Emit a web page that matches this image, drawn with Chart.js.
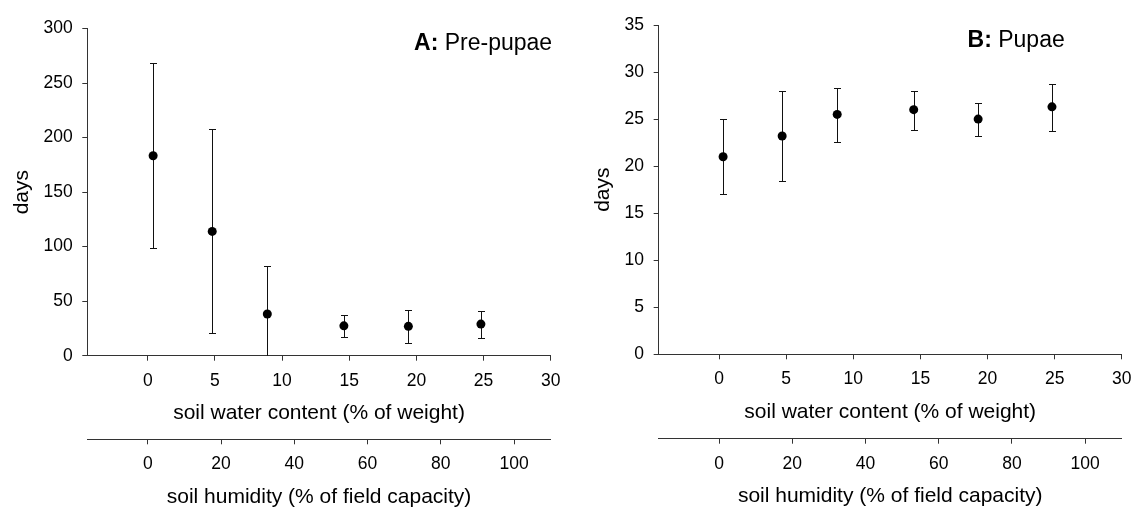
<!DOCTYPE html>
<html>
<head>
<meta charset="utf-8">
<script src="https://cdn.jsdelivr.net/npm/chart.js@4"></script>
<style>
  html, body { margin: 0; padding: 0; background: #fff; }
  #wrap { position: relative; width: 1141px; height: 508px; }
  canvas { position: absolute; top: 0; }
</style>
</head>
<body>
<div id="wrap">
  <canvas id="chartA" width="570" height="508" style="left:0"></canvas>
  <canvas id="chartB" width="571" height="508" style="left:570px"></canvas>
</div>
<script>
// tick labels
const waterTicks = [0, 5, 10, 15, 20, 25, 30];
const humidityTicks = [0, 20, 40, 60, 80, 100];
const daysTicksA = [0, 50, 100, 150, 200, 250, 300];
const daysTicksB = [0, 5, 10, 15, 20, 25, 30, 35];

// A: pre-pupae (days), mean with upper / lower bar ends
const waterA = [0.4, 4.8, 8.9, 14.6, 19.4, 24.8];
const meanA = [183.4, 114.0, 38.2, 27.4, 26.9, 29.0];
const upperA = [268.0, 207.6, 82.0, 37.5, 41.8, 41.2];
const lowerA = [98.4, 20.5, -6.0, 17.1, 11.6, 16.4];

// B: pupae (days)
const waterB = [0.3, 4.7, 8.8, 14.5, 19.3, 24.8];
const meanB = [21.0, 23.2, 25.5, 26.0, 25.0, 26.3];
const upperB = [25.0, 28.0, 28.3, 28.0, 26.7, 28.7];
const lowerB = [17.0, 18.4, 22.6, 23.8, 23.2, 23.7];

const FONT = '"Liberation Sans", Arial, sans-serif';
Chart.defaults.font.family = FONT;
Chart.defaults.color = '#000';

const errorBars = {
  id: 'errorBars',
  beforeDatasetsDraw(chart) {
    const { ctx, chartArea, scales } = chart;
    const ds = chart.data.datasets[0];
    ctx.save();
    ctx.beginPath();
    ctx.rect(chartArea.left, chartArea.top - 2, chartArea.width, chartArea.height + 2);
    ctx.clip();
    ctx.strokeStyle = '#111';
    ctx.lineWidth = 1;
    ds.data.forEach((p, i) => {
      const x = Math.round(scales.x.getPixelForValue(p.x)) + 0.5;
      const yHi = Math.round(scales.y.getPixelForValue(ds.errorUpper[i])) + 0.5;
      const yLo = Math.round(scales.y.getPixelForValue(ds.errorLower[i])) + 0.5;
      ctx.beginPath();
      ctx.moveTo(x, yHi);
      ctx.lineTo(x, yLo);
      ctx.moveTo(x - 3.5, yHi);
      ctx.lineTo(x + 3.5, yHi);
      if (ds.errorLower[i] >= scales.y.min) {
        ctx.moveTo(x - 3.5, yLo);
        ctx.lineTo(x + 3.5, yLo);
      }
      ctx.stroke();
    });
    ctx.restore();
  }
};

function panelLabel(bold, rest, atX, atY) {
  return {
    id: 'panelLabel',
    afterDraw(chart) {
      const { ctx, scales } = chart;
      const right = scales.x.getPixelForValue(atX);
      const base = scales.y.getPixelForValue(atY);
      ctx.save();
      ctx.fillStyle = '#000';
      ctx.textBaseline = 'alphabetic';
      ctx.textAlign = 'left';
      ctx.font = '23px ' + FONT;
      const wRest = ctx.measureText(rest).width;
      ctx.font = 'bold 23px ' + FONT;
      const wBold = ctx.measureText(bold).width;
      ctx.fillText(bold, right - wRest - wBold, base);
      ctx.font = '23px ' + FONT;
      ctx.fillText(rest, right - wRest, base);
      ctx.restore();
    }
  };
}

function setTicks(list) {
  return (scale) => { scale.ticks = list.map((v) => ({ value: v })); };
}

function axisStyle() {
  return {
    grid: { drawOnChartArea: false, tickLength: 5, color: '#333' },
    border: { color: '#333', width: 1 },
  };
}

function makeChart(id, cfg) {
  return new Chart(document.getElementById(id), {
    type: 'scatter',
    data: {
      datasets: [{
        data: cfg.water.map((x, i) => ({ x: x, y: cfg.mean[i] })),
        errorUpper: cfg.upper,
        errorLower: cfg.lower,
        pointRadius: 4.5,
        pointHoverRadius: 4.5,
        borderWidth: 0,
        backgroundColor: '#000',
        borderColor: '#000'
      }]
    },
    options: {
      responsive: false,
      animation: false,
      devicePixelRatio: 1,
      events: [],
      layout: { padding: { top: cfg.padTop, right: cfg.padRight, bottom: 0, left: 0 } },
      plugins: { legend: { display: false }, tooltip: { enabled: false } },
      scales: {
        x: {
          type: 'linear', position: 'bottom', weight: 0,
          min: -4.5, max: 30,
          afterBuildTicks: setTicks(waterTicks),
          ...axisStyle(),
          ticks: { padding: 9.5, color: '#000', font: { size: 17.5 } },
          title: { display: true, text: 'soil water content (% of weight)', color: '#000',
                   font: { size: 21 }, padding: { top: 0, bottom: cfg.xTitlePad } }
        },
        x2: {
          type: 'linear', position: 'bottom', weight: 1,
          min: -16.5, max: 110,
          afterBuildTicks: setTicks(humidityTicks),
          ...axisStyle(),
          ticks: { padding: 9.5, color: '#000', font: { size: 17.5 } },
          title: { display: true, text: 'soil humidity (% of field capacity)', color: '#000',
                   font: { size: 21 }, padding: { top: 0, bottom: cfg.x2TitlePad } }
        },
        y: {
          type: 'linear', position: 'left',
          min: 0, max: cfg.yMax,
          afterBuildTicks: setTicks(cfg.yTicks),
          ...axisStyle(),
          ticks: { padding: 9.6, color: '#000', font: { size: 17.5 } },
          title: { display: true, text: 'days', color: '#000',
                   font: { size: 21 }, padding: { top: cfg.yTitleTop, bottom: cfg.yTitleBottom } }
        }
      }
    },
    plugins: [errorBars, panelLabel(cfg.labelBold, cfg.labelRest, cfg.labelX, cfg.labelY)]
  });
}

makeChart('chartA', {
  water: waterA, mean: meanA, upper: upperA, lower: lowerA,
  yMax: 300, yTicks: daysTicksA,
  padTop: 28.6, padRight: 15,
  xTitlePad: 13.4, x2TitlePad: -1.5,
  yTitleTop: 9.4, yTitleBottom: -0.7,
  labelBold: 'A:', labelRest: ' Pre-pupae', labelX: 30.1, labelY: 280
});

makeChart('chartB', {
  water: waterB, mean: meanB, upper: upperB, lower: lowerB,
  yMax: 35, yTicks: daysTicksB,
  padTop: 25, padRight: 10.3,
  xTitlePad: 14.2, x2TitlePad: -0.9,
  yTitleTop: 20.7, yTitleBottom: -0.9,
  labelBold: 'B:', labelRest: ' Pupae', labelX: 25.75, labelY: 32.7
});
</script>
</body>
</html>
